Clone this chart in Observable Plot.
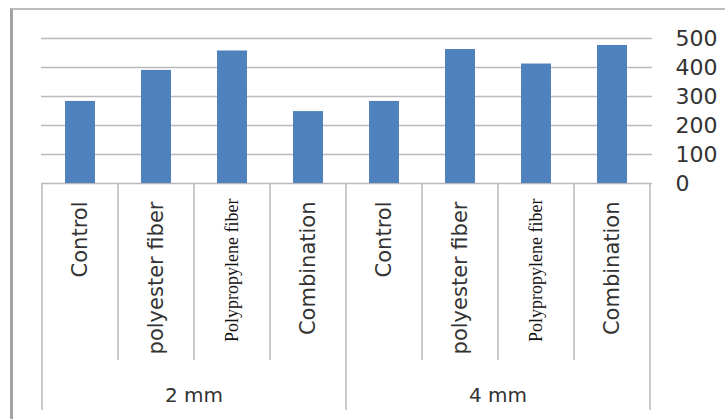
<!DOCTYPE html>
<html>
<head>
<meta charset="utf-8">
<script src="https://cdn.jsdelivr.net/npm/d3@7"></script>
<script src="https://cdn.jsdelivr.net/npm/@observablehq/plot@0.6"></script>
<style>
  html, body { margin: 0; padding: 0; background: #fff; }
  #wrap { position: relative; width: 725px; height: 419px; overflow: hidden; }
  #wrap svg { display: block; }
  #frame { position: absolute; left: 10px; top: 8px; right: -4px; bottom: -4px;
           border-left: 3px solid #a2a2a2; border-top: 2px solid #bdbdbd; pointer-events: none; }
</style>
</head>
<body>
<div id="wrap"><div id="frame"></div></div>
<script>
// ---- data ----
const groupNames = ["2 mm", "4 mm"];
const fiberTypes = ["Control", "polyester fiber", "Polypropylene fiber", "Combination"];
const values2mm = [283, 390, 457, 248];
const values4mm = [283, 462, 412, 476];
const yTicks = [0, 100, 200, 300, 400, 500];

const groupValues = [values2mm, values4mm];
const data = groupNames.flatMap((g, gi) =>
  fiberTypes.map((t, ti) => ({group: g, type: t, key: g + "|" + t, value: groupValues[gi][ti]}))
);
const keys = data.map(d => d.key);

const sansFont = "DejaVu Sans";
const serifFont = "Liberation Serif";

// table of category cells + group labels, drawn through the x scale
function categoryTable(index, scales, values, dims) {
  const x = scales.x;
  const step = typeof x.step === "function" ? x.step()
    : (dims.width - dims.marginLeft - dims.marginRight) / keys.length;
  const bw = typeof x.bandwidth === "function" ? x.bandwidth() : step * 0.4;
  const pad = (step - bw) / 2;
  const y0 = dims.height - dims.marginBottom;
  const g = d3.create("svg:g");
  const bounds = keys.map(k => x(k) - pad);
  bounds.push(x(keys[keys.length - 1]) + bw + pad);
  bounds.forEach((bx, i) => {
    const outer = i % fiberTypes.length === 0;
    g.append("line")
      .attr("x1", bx).attr("x2", bx)
      .attr("y1", y0).attr("y2", y0 + (outer ? 227 : 177))
      .attr("stroke", "#bdbdbd").attr("stroke-width", 1.6);
  });
  groupNames.forEach((gname, gi) => {
    const first = bounds[gi * fiberTypes.length];
    const last = bounds[(gi + 1) * fiberTypes.length];
    g.append("text")
      .attr("x", (first + last) / 2)
      .attr("y", y0 + 213)
      .attr("text-anchor", "middle")
      .attr("dominant-baseline", "middle")
      .attr("font-family", sansFont)
      .attr("font-size", 20)
      .attr("fill", "#333")
      .text(gname);
  });
  return g.node();
}

const chart = Plot.plot({
  width: 725,
  height: 419,
  marginLeft: 41,
  marginRight: 73,
  marginTop: 38,
  marginBottom: 236,
  style: {fontFamily: sansFont, fontSize: "22px", color: "#333", background: "transparent"},
  x: {domain: keys, paddingInner: 0.6, paddingOuter: 0.3, axis: null},
  y: {domain: [0, 500], axis: "right", ticks: yTicks, tickSize: 0, tickPadding: 23, label: null},
  marks: [
    Plot.ruleY(yTicks, {stroke: "#bababa", strokeWidth: 1.6}),
    Plot.barY(data, {x: "key", y: "value", fill: "#4f81bd"}),
    categoryTable,
    Plot.text(data.filter(d => d.type !== "Polypropylene fiber"), {
      x: "key", text: "type", frameAnchor: "bottom", dy: 18,
      rotate: -90, textAnchor: "end", lineAnchor: "middle",
      fontFamily: sansFont, fontSize: 21, fill: "#333"
    }),
    Plot.text(data.filter(d => d.type === "Polypropylene fiber"), {
      x: "key", text: "type", frameAnchor: "bottom", dy: 15,
      rotate: -90, textAnchor: "end", lineAnchor: "middle",
      fontFamily: serifFont, fontSize: 18, fill: "#111"
    })
  ]
});
document.getElementById("wrap").prepend(chart);
</script>
</body>
</html>
